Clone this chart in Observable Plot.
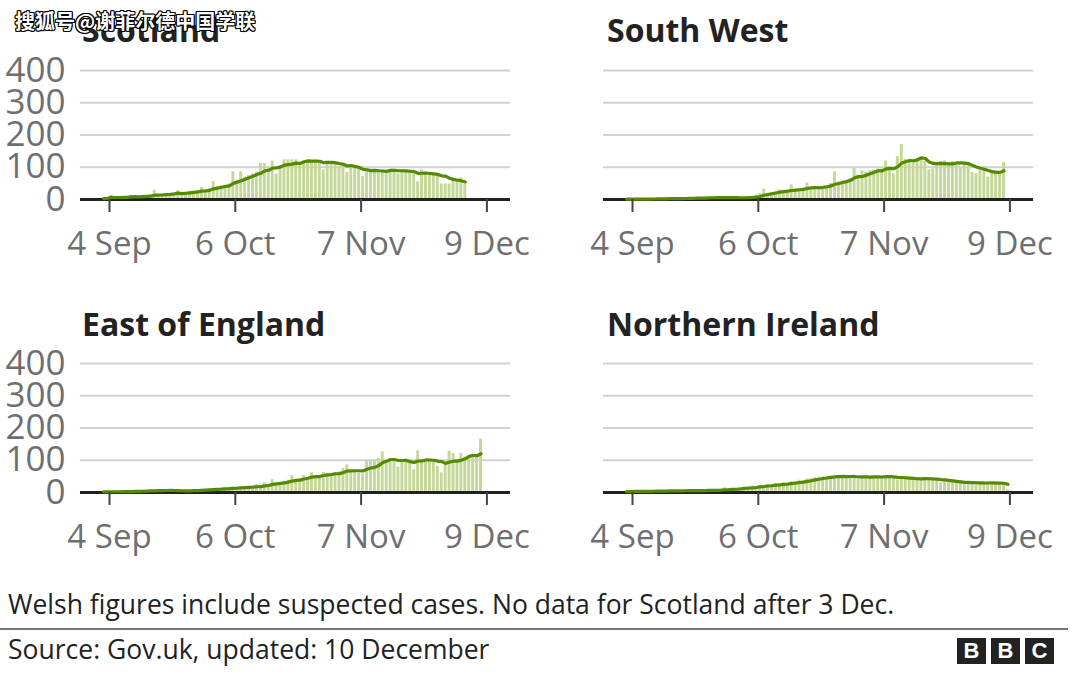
<!DOCTYPE html>
<html><head><meta charset="utf-8">
<script src="https://cdn.jsdelivr.net/npm/d3@7"></script>
<script src="https://cdn.jsdelivr.net/npm/@observablehq/plot@0.6"></script>
<style>
body{margin:0;background:#fff;}
#root{position:relative;width:1080px;height:673px;overflow:hidden;font-family:"Open Sans",sans-serif;background:#fff;}
.title{position:absolute;font-weight:700;font-size:32px;line-height:32px;color:#222;white-space:nowrap;}
.panel{position:absolute;}
.note{position:absolute;left:8px;font-size:26.5px;line-height:30px;color:#222;white-space:nowrap;}
.rule{position:absolute;left:0;width:1068px;top:628px;height:2px;background:#777;}
.bbc{position:absolute;top:638px;width:29px;height:26px;background:#222;color:#fff;font-weight:700;font-size:22px;line-height:26px;text-align:center;font-family:"Liberation Sans",sans-serif;}
.wm{position:absolute;left:15px;top:8px;font-family:"Noto Sans CJK SC",sans-serif;font-size:20px;line-height:26px;color:#fff;font-weight:700;
text-shadow:-1px -1px 0 #000,1px -1px 0 #000,-1px 1px 0 #000,1px 1px 0 #000,0 1px 0 #000,0 -1px 0 #000,1px 0 0 #000,-1px 0 0 #000;white-space:nowrap;}
</style></head><body>
<div id="root">
  <div class="title" style="left:82px;top:14px;">Scotland</div>
  <div class="title" style="left:607px;top:14px;">South West</div>
  <div class="title" style="left:82px;top:308px;">East of England</div>
  <div class="title" style="left:607px;top:308px;">Northern Ireland</div>
  <div class="panel" id="p0" style="left:0px;top:50px;"></div>
  <div class="panel" id="p1" style="left:523px;top:50px;"></div>
  <div class="panel" id="p2" style="left:0px;top:343px;"></div>
  <div class="panel" id="p3" style="left:523px;top:343px;"></div>
  <div class="note" style="top:589px;">Welsh figures include suspected cases. No data for Scotland after 3 Dec.</div>
  <div class="rule"></div>
  <div class="note" style="top:634px;">Source: Gov.uk, updated: 10 December</div>
  <div class="bbc" style="left:957px;">B</div>
  <div class="bbc" style="left:991px;">B</div>
  <div class="bbc" style="left:1025px;">C</div>
  <div class="wm">搜狐号@谢菲尔德中国学联</div>
</div>
<script>
// Daily values, first value is 2 Sep 2020
const startDate = "2020-09-02";
const regions = ["Scotland", "South West", "East of England", "Northern Ireland"];
const scotland = [3,4,13,5,6,8,7,13,10,9,11,10,12,29,14,15,16,17,18,28,20,22,24,25,27,37,30,33,56,40,42,45,48,86,60,86,70,75,80,85,112,112,100,119,79,100,123,123,123,123,112,115,118,120,122,120,92,118,115,112,100,108,84,100,98,95,71,90,88,90,92,92,88,92,90,80,90,88,85,80,55,92,85,80,78,75,48,48,48,60,62,67,46];
const southWest = [1,1,1,2,1,2,2,2,3,2,3,3,3,4,3,4,4,5,5,6,5,6,7,6,7,6,5,5,4,5,6,8,10,14,18,32,20,22,24,30,26,28,45,28,30,32,51,38,36,40,38,42,50,86,55,58,60,65,97,75,89,85,90,92,95,95,119,100,79,133,170,125,120,112,125,120,118,92,95,115,118,120,115,118,112,97,110,105,84,80,90,92,69,85,88,85,115];
const eastOfEngland = [2,2,3,2,3,3,4,3,5,4,5,6,7,7,6,7,5,6,5,4,5,5,6,9,8,10,9,11,10,12,13,14,15,16,14,17,16,18,19,25,20,30,24,40,28,30,35,38,53,40,44,53,46,61,50,52,62,60,60,62,63,74,86,65,62,60,58,100,100,100,105,126,90,95,100,79,100,105,100,71,129,100,102,98,100,81,61,90,128,121,100,121,110,115,112,118,165];
const northernIreland = [3,3,4,3,4,4,5,4,5,5,5,6,5,6,5,6,6,5,6,7,6,8,7,8,9,15,9,10,12,14,18,16,20,19,22,21,25,24,28,26,30,28,34,33,38,36,42,44,46,48,49,50,51,50,52,50,44,50,51,40,50,52,48,47,50,49,48,50,46,38,45,44,43,42,40,42,44,43,40,41,30,34,33,32,31,30,28,32,30,29,30,28,29,29,28,30,27,8];
const series = [scotland, southWest, eastOfEngland, northernIreland];
const xTickLabels = ["2020-09-04", "2020-10-06", "2020-11-07", "2020-12-09"];
const yTicks = [0, 100, 200, 300, 400];

const DAY = 864e5;
const t0 = new Date(startDate + "T00:00:00Z").getTime();
const xTicks = xTickLabels.map(s => new Date(s + "T00:00:00Z"));
const xDomain = [new Date(Date.UTC(2020, 7, 27, 15)), new Date(Date.UTC(2020, 11, 15))];
const fmt = d3.utcFormat("%-d %b");
const font = '"Open Sans", sans-serif';

series.forEach((vals, i) => {
  const rows = vals.map((v, j) => ({
    region: regions[i],
    d0: new Date(t0 + j * DAY),
    d1: new Date(t0 + (j + 1) * DAY),
    mid: new Date(t0 + (j + 0.5) * DAY),
    value: v
  }));
  const showY = i % 2 === 0;
  const marks = [
    Plot.gridY({ticks: [100, 200, 300, 400], stroke: "#d2d2d2", strokeOpacity: 1, strokeWidth: 2}),
    Plot.rectY(rows, {x1: "d0", x2: "d1", y: "value", fill: "#c5d89a", insetLeft: 0.5, insetRight: 0.5}),
    Plot.ruleY([0], {stroke: "#222", strokeWidth: 3}),
    Plot.lineY(rows, Plot.windowY({k: 7, anchor: "end", reduce: "mean"}, {x: "mid", y: "value", stroke: "#558a00", strokeWidth: 3.2, curve: "linear"})),
    Plot.axisX({ticks: xTicks, tickFormat: fmt, tickSize: 13, tickPadding: 19, stroke: "#444", strokeWidth: 2, fill: "#6f6f6f", fontSize: 33, label: null})
  ];
  if (showY) {
    marks.push(Plot.axisY({ticks: yTicks, tickSize: 0, tickPadding: 15, fill: "#6f6f6f", fontSize: 35, label: null}));
  } else {
    marks.push(Plot.axisY({ticks: [], label: null}));
  }
  const chart = Plot.plot({
    width: 540, height: 220,
    marginLeft: 80, marginRight: 30, marginTop: 20, marginBottom: 71,
    x: {type: "utc", domain: xDomain},
    y: {domain: [0, 400]},
    style: {fontFamily: font, fontSize: "33px", background: "transparent", overflow: "visible"},
    marks
  });
  document.getElementById("p" + i).appendChild(chart);
});
</script>
</body></html>
